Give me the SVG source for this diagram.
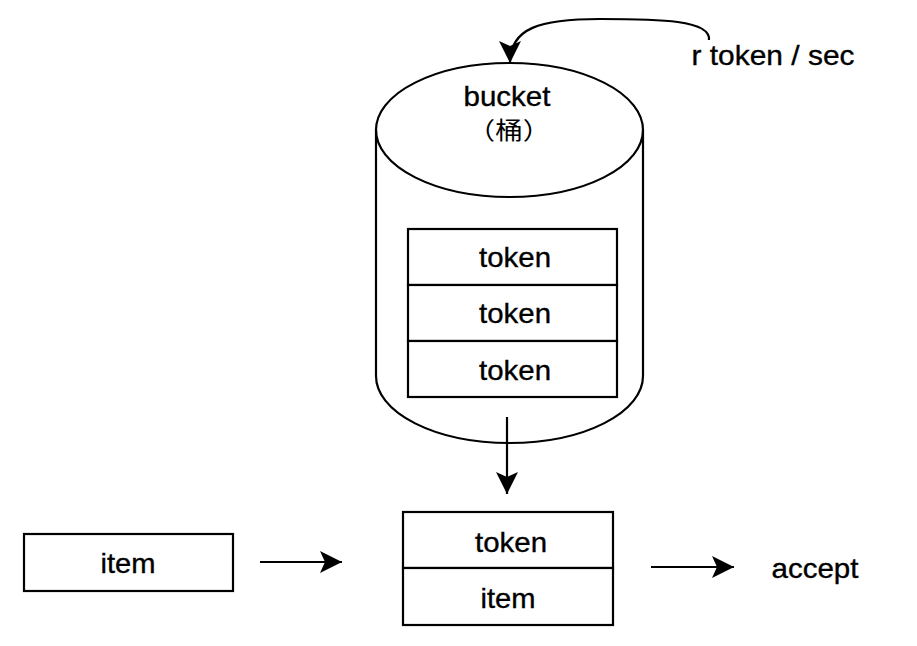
<svg xmlns="http://www.w3.org/2000/svg" width="917" height="646" viewBox="0 0 917 646">
<style>
.s{fill:#fff;stroke:#000;stroke-width:2.2}
.l{fill:none;stroke:#000;stroke-width:2.2}
.t{font-family:"Liberation Sans",Arial,"Noto Sans CJK SC",sans-serif;font-size:28px;fill:#000;stroke:#000;stroke-width:0.35;text-anchor:middle}
.c{font-family:"Noto Sans CJK SC","Noto Sans CJK JP",sans-serif;font-size:24px;fill:#000;text-anchor:middle}
</style>
<defs>
<marker id="arr" markerUnits="userSpaceOnUse" viewBox="0 0 22 22" refX="22" refY="11" markerWidth="22" markerHeight="22" orient="auto">
<path d="M0,0 L22,11 L0,22 L5,11 Z" fill="#000"/>
</marker>
</defs>
<rect width="917" height="646" fill="#fff"/>
<g id="bucket">
<path class="s" d="M376,130 L376,376 A133.5,67 0 0 0 643,376 L643,130 A133.5,67 0 0 0 376,130 Z"/>
<path class="l" d="M376,130 A133.5,67 0 0 0 643,130"/>
<text class="t" x="507" y="106" textLength="87" lengthAdjust="spacingAndGlyphs">bucket</text>
<text class="c" transform="translate(509,139) scale(1.15,1)" x="0" y="0">（桶）</text>
</g>
<g id="token1">
<rect class="s" x="408" y="229" width="209" height="56"/>
<text class="t" x="515" y="267" textLength="72" lengthAdjust="spacingAndGlyphs">token</text>
</g>
<g id="token2">
<rect class="s" x="408" y="285" width="209" height="56"/>
<text class="t" x="515" y="323" textLength="72" lengthAdjust="spacingAndGlyphs">token</text>
</g>
<g id="token3">
<rect class="s" x="408" y="341" width="209" height="56"/>
<text class="t" x="515" y="380" textLength="72" lengthAdjust="spacingAndGlyphs">token</text>
</g>
<g id="item-in">
<rect class="s" x="24" y="534" width="209" height="57"/>
<text class="t" x="128" y="573" textLength="55" lengthAdjust="spacingAndGlyphs">item</text>
</g>
<g id="pair-token">
<rect class="s" x="403" y="512" width="210" height="56"/>
<text class="t" x="511" y="552" textLength="72" lengthAdjust="spacingAndGlyphs">token</text>
</g>
<g id="pair-item">
<rect class="s" x="403" y="568" width="210" height="57"/>
<text class="t" x="508" y="608" textLength="55" lengthAdjust="spacingAndGlyphs">item</text>
</g>
<g id="rate">
<text class="t" x="773" y="65" textLength="163" lengthAdjust="spacingAndGlyphs">r token / sec</text>
</g>
<g id="accept">
<text class="t" x="815" y="578" textLength="87" lengthAdjust="spacingAndGlyphs">accept</text>
</g>
<g id="connectors">
<path class="l" d="M709,40 C711,20 660,19 600,19 C540,19 510,28 510,63" marker-end="url(#arr)"/>
<path class="l" d="M507,417 L507,494" marker-end="url(#arr)"/>
<path class="l" d="M260,562 L342,562" marker-end="url(#arr)"/>
<path class="l" d="M651,567 L734,567" marker-end="url(#arr)"/>
</g>
</svg>
